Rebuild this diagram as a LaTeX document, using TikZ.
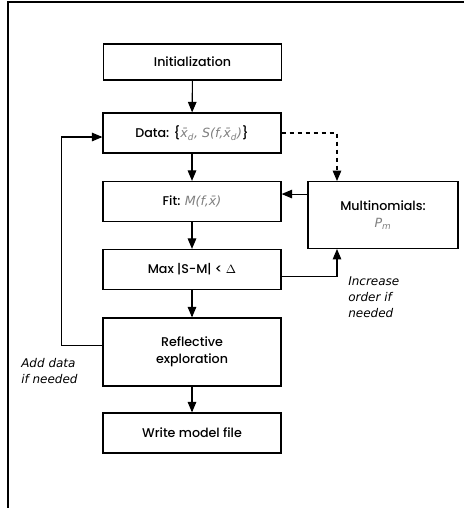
\documentclass[tikz,border=0pt]{standalone}
\usepackage{fontspec}
\setmainfont{Poppins}[UprightFont=* Medium]
\newfontfamily\notefont{DejaVu Sans}
\newfontfamily\symfont{DejaVu Sans}[Color=7F7F7F]
\usetikzlibrary{arrows,positioning}

\newcommand{\gm}[1]{{\symfont\itshape #1}}

\tikzset{
  stage/.style={draw=black,text=black,line width=1pt,minimum width=133.5pt,align=center,
    font=\fontsize{9.5}{13}\selectfont},
  flow/.style={-triangle 45,draw=black,line width=0.8pt},
  note/.style={font=\notefont\itshape\fontsize{9}{12.2}\selectfont,align=left,inner sep=0pt}
}

\begin{document}
\begin{tikzpicture}[x=0.75pt,y=-0.75pt]
      \useasboundingbox (0,0) rectangle (464,508);
      \draw[line width=0.9pt] (8,508) -- (8,2) -- (464,2);
      % main chain
      \node[stage,minimum height=27pt] (init) at (192.5,62) {Initialization};
      \node[stage,minimum height=30pt] (data) at (192,133) {Data: \{\gm{x̄\textsubscript{d}, S(f,x̄\textsubscript{d})}\}};
      \node[stage,minimum height=30pt] (fit) at (192,201.5) {Fit: \gm{M(f,x̄)}};
      \node[stage,minimum height=30pt] (max) at (192,269.5) {Max |S-M| < $\Delta$};
      \node[stage,minimum height=51pt] (refl) at (192,352) {Reflective\\exploration};
      \node[stage,minimum height=30pt] (write) at (192,433) {Write model file};
      \node[stage,minimum width=112.5pt,minimum height=50pt] (multi) at (383,215) {Multinomials:\\\gm{P\textsubscript{m}}};
      \draw[flow] (init) -- (data);
      \draw[flow] (data) -- (fit);
      \draw[flow] (fit) -- (max);
      \draw[flow] (max) -- (refl);
      \draw[flow] (refl) -- (write);
      % side loops
      \coordinate (tap) at (337,0);
      \coordinate (fitin) at ([yshift=5.6pt]fit.east);
      \draw[flow,dashed] (data.east) -| (tap |- multi.north);
      \draw[flow] (multi.west |- fitin) -- (fitin);
      \draw[flow] ([yshift=-5pt]max.east) -| (tap |- multi.south);
      \draw[flow] ([yshift=5pt]refl.west) -- ++(-41,0) |- ([yshift=-3pt]data.west);
      \node[note,anchor=north west] (incr) at (348,276) {Increase\\order if\\needed};
      \node[note,anchor=north west] (adddata) at (21,358) {Add data\\if needed};
    \end{tikzpicture}
\end{document}
